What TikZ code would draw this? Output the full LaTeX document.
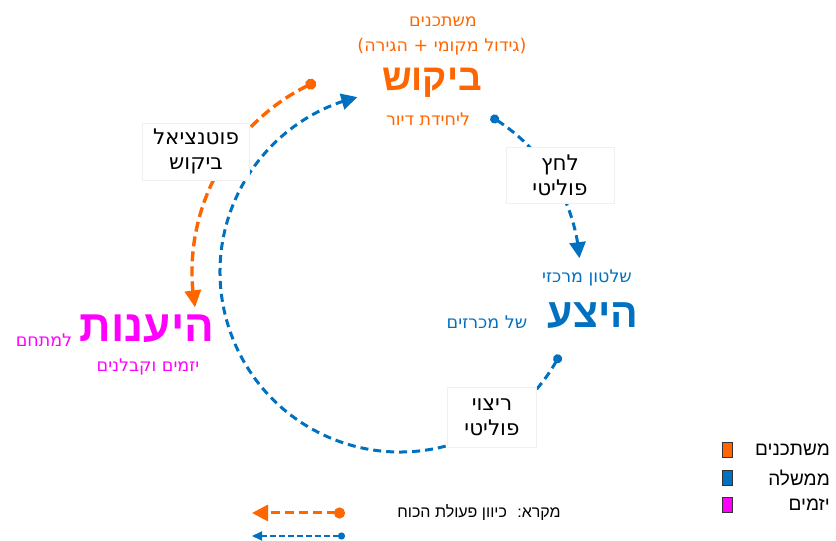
\documentclass[tikz,border=0pt]{standalone}
\usepackage{fontspec}
\usetikzlibrary{arrows.meta,bending}
\TeXXeTstate=1
\newfontfamily\hebfont[Script=Hebrew]{Liberation Sans}
\newfontfamily\hwfont[Script=Hebrew]{DejaVu Sans}
\newcommand\HebT[1]{{\hebfont\beginR #1\endR}}
\newcommand\HwT[1]{{\hwfont\beginR #1\endR}}
\definecolor{cOr}{RGB}{255,102,0}
\definecolor{cBl}{RGB}{0,112,192}
\definecolor{cMg}{RGB}{255,0,255}
\begin{document}
\begin{tikzpicture}[x=1pt,y=1pt,
  oline/.style={cOr,line width=3.4pt,dash pattern=on 10pt off 5pt,{Circle[length=11pt]}-{Triangle[length=17pt,width=16pt]}},
  bline/.style={cBl,line width=3pt,dash pattern=on 8pt off 5pt,{Circle[length=9pt]}-{Triangle[length=16pt,width=16pt]}},
  lbox/.style={fill=white,draw=black!6,line width=0.6pt,align=center,font=\fontsize{21.5}{25}\selectfont,inner sep=0pt},
  small/.style={font=\fontsize{17.5}{20}\selectfont},
  big/.style={font=\bfseries},
  legsq/.style={draw=black!80,line width=0.5pt,minimum width=10pt,minimum height=15pt,inner sep=0pt},
  legtx/.style={anchor=east,font=\fontsize{19}{21}\selectfont,inner sep=0pt}]
\useasboundingbox (0,0) rectangle (836,541);
\coordinate (C) at (400,269);
% connectors (arcs round the centre C)
\path (C) ++(113.9:208) coordinate (oS);
\draw[oline] (oS) arc[start angle=113.9,end angle=189.8,radius=208pt];
\path (C) ++(59.7:180) coordinate (bS1);
\draw[bline] (bS1) arc[start angle=59.7,end angle=4.4,radius=180pt];
\path (C) ++(-27.4:180) coordinate (bS2);
\draw[bline] (bS2) arc[start angle=-27.4,end angle=-256.3,radius=180pt];
% label boxes on the connectors
\node[lbox,minimum width=107pt,minimum height=57pt] (pot) at (196,389.5) {\HwT{פוטנציאל}\\\HwT{ביקוש}};
\node[lbox,minimum width=108pt,minimum height=56pt] (lahats) at (560,366) {\HwT{לחץ}\\\HwT{פוליטי}};
\node[lbox,minimum width=89pt,minimum height=60pt] (ritsui) at (492,124) {\HwT{ריצוי}\\\HwT{פוליטי}};
% demand
\node[small,cOr] (mishtak) at (443,519) {\HwT{משתכנים}};
\node[small,cOr] (gidul) at (442,494) {\HwT{(גידול מקומי + הגירה)}};
\node[big,cOr,font=\fontsize{37}{40}\selectfont\bfseries] (bikush) at (432,458) {\HebT{ביקוש}};
\node[small,cOr] (yehida) at (428,422) {\HwT{ליחידת דיור}};
% supply
\node[small,cBl] (shilton) at (587,263) {\HwT{שלטון מרכזי}};
\node[big,cBl,font=\fontsize{41}{44}\selectfont\bfseries] (heitsea) at (593,225) {\HebT{היצע}};
\node[small,cBl] (mikhraz) at (487,219) {\HwT{של מכרזים}};
% response
\node[big,cMg,font=\fontsize{44}{48}\selectfont\bfseries] (heanut) at (147,212) {\HebT{היענות}};
\node[small,cMg] (mitham) at (44,201) {\HwT{למתחם}};
\node[small,cMg] (yazamim) at (148,174) {\HwT{יזמים וקבלנים}};
% colour legend
\node[legsq,fill=cOr] (sqO) at (727,91) {};
\node[legsq,fill=cBl] (sqB) at (727,63) {};
\node[legsq,fill=cMg] (sqM) at (727,36) {};
\node[legtx] (tO) at (830,91) {\HebT{משתכנים}};
\node[legtx] (tB) at (830,63) {\HebT{ממשלה}};
\node[legtx] (tM) at (830,36) {\HebT{יזמים}};
% arrow legend
\node[font=\fontsize{16}{18}\selectfont] (mikra) at (479,28) {\HebT{מקרא: \ כיוון פעולת הכוח}};
\coordinate (loS) at (345,28);
\coordinate (loE) at (252,28);
\coordinate (lbS) at (345,5);
\coordinate (lbE) at (252,5);
\draw[cOr,line width=3pt,dash pattern=on 9pt off 5pt,{Circle[length=11pt]}-{Triangle[length=16pt,width=16pt]}] (loS) -- (loE);
\draw[cBl,line width=2.2pt,dash pattern=on 6pt off 3pt,{Circle[length=7pt]}-{Triangle[length=10pt,width=9pt]}] (lbS) -- (lbE);
\end{tikzpicture}
\end{document}
